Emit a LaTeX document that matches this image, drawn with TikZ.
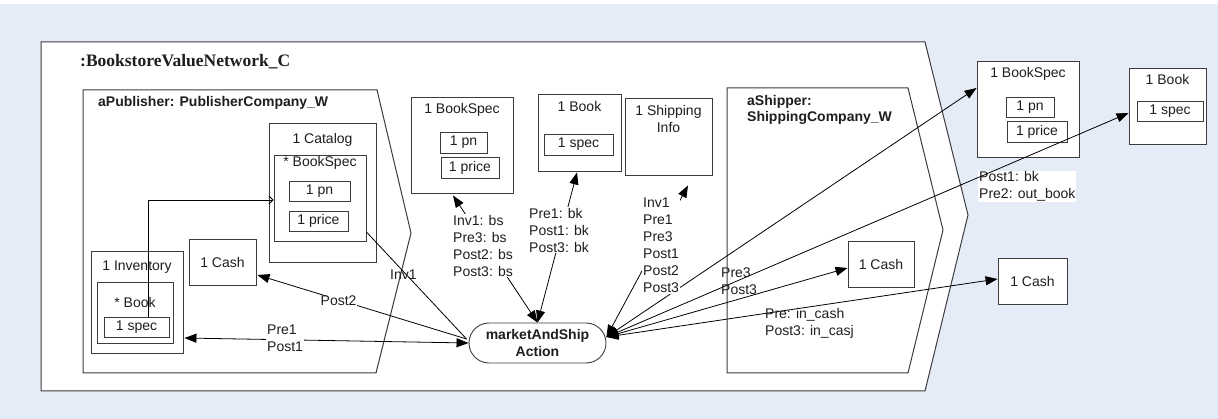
\documentclass[tikz,border=0pt]{standalone}
\usepackage{fontspec}
\setmainfont{Liberation Sans}
\newfontfamily\titlefont{Liberation Serif}
\usetikzlibrary{arrows.meta,calc}
\definecolor{bgblue}{RGB}{229,236,247}
\definecolor{framec}{RGB}{60,60,60}
\definecolor{txt}{RGB}{30,30,30}
\begin{document}
\begin{tikzpicture}[x=1pt,y=-1pt,
  every node/.style={text=txt,font=\fontsize{14}{17}\selectfont},
  frameline/.style={draw=framec,line width=1pt,fill=white,line join=miter},
  box/.style={draw=framec,line width=0.9pt,fill=white,inner sep=0pt},
  ttl/.style={inner sep=0pt},
  bttl/.style={inner sep=0pt,font=\bfseries\fontsize{14}{16}\selectfont,align=left},
  lbl/.style={inner sep=1pt,align=left,anchor=west},
  conn/.style={draw=black,line width=0.8pt},
  tipF/.tip={Triangle[length=12pt,width=9pt]},
  tipO/.tip={Straight Barb[length=4pt,width=8pt]}
]
\useasboundingbox (0,0) rectangle (1218,419);
\fill[bgblue] (0,0) rectangle (1218,419);
\fill[white] (0,0) rectangle (1218,4);

% outer network frame
\draw[frameline] (41,42) -- (925,42) -- (968,215) -- (925,391) -- (41,391) -- cycle;
\node[ttl,anchor=west,font=\titlefont\bfseries\fontsize{17.5}{20}\selectfont] (netT) at (80,62) {:BookstoreValueNetwork\_C};

% publisher
\draw[frameline] (83,90) -- (377,90) -- (411,233) -- (376,373) -- (83,373) -- cycle;
\node[bttl,anchor=west] (pubT) at (98,103) {aPublisher: PublisherCompany\_W};

% shipper
\draw[frameline] (727,88) -- (908,88) -- (943,230) -- (908,373) -- (727,373) -- cycle;
\node[bttl,anchor=north west] (shipT) at (747,95) {aShipper:\\ShippingCompany\_W};

% publisher contents
\node[box,minimum width=107,minimum height=139] (cat) at (322.5,192.5) {};
\node[ttl] (catT) at (322.5,140) {1 Catalog};
\node[box,minimum width=92,minimum height=86] (bsP) at (320,198) {};
\node[ttl] (bsPT) at (320,163) {* BookSpec};
\node[box,minimum width=61,minimum height=20] (pnP) at (319.5,191) {1 pn};
\node[box,minimum width=59,minimum height=20] (prP) at (318.5,221) {1 price};
\node[box,minimum width=67,minimum height=46] (cashP) at (222.5,262) {1 Cash};
\node[box,minimum width=92,minimum height=102] (inv) at (137,302) {};
\node[ttl] (invT) at (137,267) {1 Inventory};
\node[box,minimum width=76,minimum height=61] (bkP) at (135,312.5) {};
\node[ttl] (bkPT) at (135,302) {* Book};
\node[box,minimum width=65,minimum height=20] (specP) at (136.5,327) {1 spec};

% middle items
\node[box,minimum width=102,minimum height=96] (bsM) at (462,145) {};
\node[ttl] (bsMT) at (462,110) {1 BookSpec};
\node[box,minimum width=47,minimum height=21] (pnM) at (463.5,142.5) {1 pn};
\node[box,minimum width=58,minimum height=21] (prM) at (470,167.5) {1 price};
\node[box,minimum width=83,minimum height=77] (bkM) at (579.5,132.5) {};
\node[ttl] (bkMT) at (579.5,106) {1 Book};
\node[box,minimum width=69,minimum height=21] (specM) at (578.5,144.5) {1 spec};
\node[box,minimum width=87,minimum height=77] (siM) at (668.5,136.5) {};
\node[ttl,align=center] (siMT) at (668.5,119) {1 Shipping\\Info};

% shipper contents and outside items
\node[box,minimum width=66,minimum height=46] (cashS) at (881,264) {1 Cash};
\node[box,minimum width=102,minimum height=96] (bsR) at (1028,109) {};
\node[ttl] (bsRT) at (1028,74) {1 BookSpec};
\node[box,minimum width=48,minimum height=20] (pnR) at (1030,107) {1 pn};
\node[box,minimum width=60,minimum height=21] (prR) at (1037,131.5) {1 price};
\node[box,minimum width=77,minimum height=76] (bkR) at (1167.5,106) {};
\node[ttl] (bkRT) at (1167.5,80) {1 Book};
\node[box,minimum width=66,minimum height=20] (specR) at (1170,111) {1 spec};
\node[box,minimum width=69,minimum height=46] (cashR) at (1032.5,281) {1 Cash};

% action
\node[draw=framec,line width=0.9pt,fill=white,rounded corners=20pt,minimum width=137,minimum height=40,inner sep=0pt,align=center,font=\bfseries\fontsize{14}{17}\selectfont] (act) at (537.5,343) {marketAndShip\\Action};
\coordinate (actL) at ($(act.west)+(-2,-4)$);
\coordinate (actR) at ($(act.east)+(0,-6)$);

% label with white background drawn beneath lines
\node[lbl,fill=white] (lPost1bk) at (978,186.5) {Post1: bk\\Pre2: out\_book};

% connectors
\draw[conn,-{tipO}] ($(specP.north)+(11.5,0)$) |- ($(bsP.west)+(0,2)$);
\draw[conn] ($(bsP.east)+(0,34)$) -- (actL);
\draw[conn,-{tipF}] (actL) -- ($(cashP.east)+(1,13)$);
\draw[conn,{tipF}-{tipF}] ($(inv.east)+(1,36)$) -- (act.west);
\draw[conn,{tipF}-{tipF}] ($(bsM.south)+(-9,2)$) -- (act.north);
\draw[conn,{tipF}-{tipF}] ($(bkM.south)+(-2.5,1)$) -- (act.north);
\draw[conn,{tipF}-{tipF}] ($(siM.south)+(19.5,10)$) -- (actR);
\draw[conn,{tipF}-{tipF}] (actR) -- ($(bsR.west)+(0,-21)$);
\draw[conn,{tipF}-{tipF}] (actR) -- ($(bkR.west)+(0,7)$);
\draw[conn,{tipF}-{tipF}] (actR) -- ($(cashS.west)+(0,4)$);
\draw[conn,{tipF}-{tipF}] (actR) -- ($(cashR.west)+(0,-2)$);

% connector labels
\node[lbl,inner sep=0pt] (lInv1) at (390,275) {Inv1};
\node[lbl,fill=white,inner sep=0.5pt] (lPost2) at (320,301) {Post2};
\node[lbl,fill=white] (lPre1) at (266,338) {Pre1\\Post1};
\node[lbl,fill=white] (lbs) at (452,245.5) {Inv1: bs\\Pre3: bs\\Post2: bs\\Post3: bs};
\node[lbl,fill=white] (lbk) at (528,230) {Pre1: bk\\Post1: bk\\Post3: bk};
\node[lbl,fill=white] (lsi) at (642,245.5) {Inv1\\Pre1\\Pre3\\Post1\\Post2\\Post3};
\node[lbl,inner sep=0pt] (lPre3) at (721,281.5) {Pre3\\Post3};
\node[lbl,inner sep=0pt] (lcash) at (765,323.5) {Pre: in\_cash\\Post3: in\_casj};
\end{tikzpicture}
\end{document}
